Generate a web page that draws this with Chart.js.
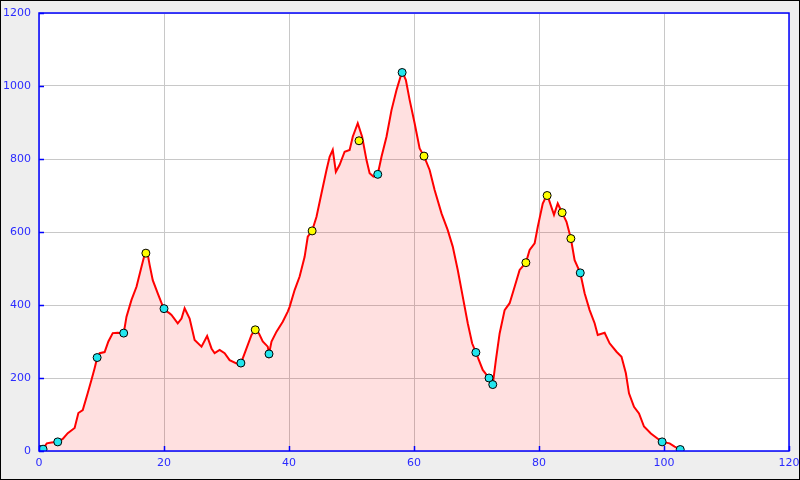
<!DOCTYPE html>
<html lang="en">
<head>
  <meta charset="utf-8">
  <title>Elevation profile</title>
  <script src="https://cdn.jsdelivr.net/npm/chart.js"></script>
  <style>
    body { margin: 0; background: #eeeeee; }
    canvas { display: block; }
  </style>
</head>
<body>
  <canvas id="profile-chart" width="800" height="480"></canvas>
  <script>
    // distance (km) and elevation (m) of the track
    const distKm = [0.1, 0.6, 1.25, 2.0, 3.0, 3.8, 4.6, 5.7, 6.3, 7.0, 7.8, 8.4, 8.9, 9.3, 9.7, 10.5, 11.1, 11.8, 12.6, 13.55,
      14.0, 14.8, 15.6, 16.4, 17.0, 17.3, 17.7, 18.2, 19.0, 20.0, 20.9, 21.2, 22.2, 22.8, 23.3, 24.1, 24.9, 26.0, 26.9, 27.6,
      28.1, 28.9, 29.7, 30.5, 31.6, 32.3, 33.2, 34.0, 34.6, 35.2, 35.8, 36.6, 36.8, 37.2, 38.0, 39.0, 39.8, 40.1, 40.9, 41.7,
      42.5, 43.0, 43.7, 44.4, 45.2, 46.0, 46.5, 47.0, 47.5, 48.1, 48.9, 49.7, 50.2, 51.0, 51.7, 52.4, 52.9, 53.5, 54.2, 54.8,
      55.6, 56.4, 57.2, 58.1, 58.7, 59.3, 60.1, 60.9, 61.6, 62.5, 63.3, 64.4, 65.4, 66.2, 67.0, 67.8, 68.6, 69.3, 69.9, 71.0,
      72.0, 72.6, 73.1, 73.7, 74.5, 75.3, 76.1, 76.9, 77.9, 78.5, 79.3, 79.8, 80.6, 81.3, 82.4, 83.0, 83.7, 84.4, 85.1, 85.7,
      86.6, 87.3, 88.1, 88.9, 89.4, 90.5, 91.3, 92.4, 93.2, 93.9, 94.4, 95.2, 96.0, 96.8, 97.9, 98.9, 99.7, 100.9, 101.7, 102.6];
    const elevM = [6, 5, 21, 23, 25, 33, 49, 63, 104, 112, 159, 195, 227, 255, 268, 271, 300, 323, 324, 322,
      368, 414, 450, 505, 545, 548, 510, 468, 432, 388, 377, 373, 350, 363, 391, 363, 304, 286, 315, 281,
      268, 277, 268, 249, 240, 240, 281, 318, 332, 322, 300, 286, 266, 300, 327, 354, 382, 395, 441, 478,
      532, 587, 603, 642, 706, 770, 806, 825, 765, 784, 820, 825, 861, 898, 861, 797, 761, 752, 758, 806,
      861, 934, 989, 1040, 1016, 962, 898, 829, 808, 770, 715, 651, 605, 560, 496, 423, 350, 295, 270, 222,
      200, 182, 249, 322, 386, 405, 450, 496, 516, 551, 569, 614, 678, 703, 647, 678, 653, 628, 582, 523,
      488, 432, 386, 350, 318, 324, 295, 272, 258, 213, 158, 121, 103, 67, 48, 35, 25, 21, 12, 4];

    // waypoints
    const yellowKm = [17.1, 34.6, 43.7, 51.2, 61.6, 77.9, 81.3, 83.7, 85.1];
    const yellowElev = [542, 332, 603, 850, 808, 516, 700, 653, 582];
    const cyanKm = [0.1, 0.65, 3.0, 9.3, 13.55, 20.0, 32.3, 36.8, 54.2, 58.1, 69.9, 72.0, 72.6, 86.6, 99.7, 102.6];
    const cyanElev = [4, 5, 25, 256, 323, 390, 241, 266, 758, 1037, 270, 200, 182, 488, 25, 4];

    const toPoints = (xs, ys) => xs.map((x, i) => ({ x: x, y: ys[i] }));

    // grey page, white plot area, blue frame with inward ticks, black outer border
    const framePlugin = {
      id: 'frame',
      beforeDraw(chart) {
        const c = chart.ctx, a = chart.chartArea;
        c.save();
        c.fillStyle = '#eeeeee';
        c.fillRect(0, 0, chart.width, chart.height);
        c.fillStyle = '#ffffff';
        c.fillRect(a.left, a.top, a.right - a.left, a.bottom - a.top);
        c.restore();
      },
      afterDatasetsDraw(chart) {
        const c = chart.ctx, a = chart.chartArea;
        const xs = chart.scales.x, ys = chart.scales.y;
        c.save();
        c.strokeStyle = '#0000ff';
        c.lineWidth = 1.5;
        c.strokeRect(a.left, a.top, a.right - a.left, a.bottom - a.top);
        c.beginPath();
        xs.ticks.forEach(t => {
          const px = Math.round(xs.getPixelForValue(t.value)) + 0.5;
          c.moveTo(px, a.bottom);
          c.lineTo(px, a.bottom - 5);
        });
        ys.ticks.forEach(t => {
          const py = Math.round(ys.getPixelForValue(t.value)) + 0.5;
          c.moveTo(a.left, py);
          c.lineTo(a.left + 5, py);
        });
        c.stroke();
        c.strokeStyle = '#000000';
        c.lineWidth = 1;
        c.strokeRect(0.5, 0.5, chart.width - 1, chart.height - 1);
        c.restore();
      }
    };

    const tickFont = { family: 'DejaVu Sans', size: 11 };

    const ctxProfile = document.getElementById('profile-chart').getContext('2d');
    new Chart(ctxProfile, {
      type: 'line',
      data: {
        datasets: [
          {
            label: 'yellow', data: toPoints(yellowKm, yellowElev), showLine: false,
            pointRadius: 4, pointBackgroundColor: '#ffff00', pointBorderColor: '#000000', pointBorderWidth: 1
          },
          {
            label: 'cyan', data: toPoints(cyanKm, cyanElev), showLine: false,
            pointRadius: 4, pointBackgroundColor: '#22e6ee', pointBorderColor: '#000000', pointBorderWidth: 1
          },
          {
            label: 'Elevation', data: toPoints(distKm, elevM), borderColor: '#ff0000', borderWidth: 2,
            backgroundColor: 'rgba(255, 0, 0, 0.12)', fill: 'origin', pointRadius: 0, tension: 0
          }
        ]
      },
      options: {
        responsive: false,
        animation: false,
        devicePixelRatio: 1,
        layout: { padding: { top: 13, right: 11, left: 0, bottom: 0 } },
        plugins: { legend: { display: false }, tooltip: { enabled: false } },
        scales: {
          x: {
            type: 'linear', min: 0, max: 120,
            ticks: { stepSize: 20, color: '#2a2aff', font: tickFont, padding: 6, maxRotation: 0 },
            grid: { color: '#c8c8c8', drawTicks: false },
            border: { display: false },
            afterFit(scale) {
              scale.height = 29;
              scale.paddingLeft = 0;
              scale.paddingRight = 0;
            }
          },
          y: {
            min: 0, max: 1200,
            ticks: { stepSize: 200, color: '#2a2aff', font: tickFont, padding: 8, callback: v => String(v) },
            grid: { color: '#c8c8c8', drawTicks: false },
            border: { display: false },
            afterFit(scale) {
              scale.width = 39;
              scale.paddingTop = 0;
              scale.paddingBottom = 0;
            }
          }
        }
      },
      plugins: [framePlugin]
    });
  </script>
</body>
</html>
